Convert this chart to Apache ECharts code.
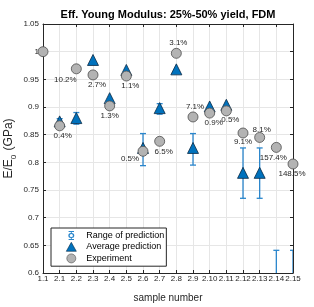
<!DOCTYPE html>
<html><head><meta charset="utf-8">
<script src="https://cdn.jsdelivr.net/npm/echarts@6/dist/echarts.min.js"></script>
<style>html,body{margin:0;padding:0;background:#fff}#c{width:314px;height:307px}</style>
</head><body><div id="c"></div>
<script>
const categories = ['1.1','2.1','2.2','2.3','2.4','2.5','2.6','2.7','2.8','2.9','2.10','2.11','2.12','2.13','2.14','2.15'];
const experiment = [1.0, 0.866, 0.969, 0.958, 0.902, 0.956, 0.820, 0.838, 0.997, 0.882, 0.889, 0.893, 0.853, 0.845, 0.827, 0.797];
const expLabels = ['', '0.4%', '10.2%', '2.7%', '1.3%', '1.1%', '0.5%', '6.5%', '3.1%', '7.1%', '0.9%', '0.5%', '9.1%', '8.1%', '157.4%', '148.5%'];
const avgPrediction = [null, 0.874, 0.880, 0.985, 0.916, 0.967, 0.826, 0.898, 0.968, 0.826, 0.901, 0.904, 0.781, 0.781, 0.55, 0.55];
const rangeLow = [null, 0.869, 0.869, null, null, null, 0.794, 0.887, null, 0.795, null, null, 0.735, 0.735, 0.46, 0.46];
const rangeHigh = [null, 0.879, 0.890, null, null, null, 0.852, 0.906, null, 0.852, null, null, 0.826, 0.826, 0.641, 0.641];
const yTicks = {min: 0.6, max: 1.05, step: 0.05};

// label placement (layout, not data): [dx, dy]
const labelOffsets = [[0,0],[3,10],[-11,11],[4,10],[0,10],[4,10],[-13,8],[4,10],[2,-11],[2,-10],[4,10],[4,9],[0,9],[2,-8],[-3,10],[-1,10]];

const errData = [];
for (let i = 0; i < categories.length; i++) {
  if (rangeLow[i] != null) errData.push([i, rangeLow[i], rangeHigh[i]]);
}
const expData = experiment.map((v, i) => ({
  value: [i, v],
  label: {show: expLabels[i] !== '', formatter: expLabels[i], position: 'inside', offset: labelOffsets[i]}
}));
const avgData = avgPrediction.map((v, i) => v == null ? null : [i, v]);

const blue = '#0072BD';
const errBlue = '#2a86cc';
const gridColor = '#e6e6e6';
const axisColor = '#262626';
const font = 'Liberation Sans, Arial, Helvetica, sans-serif';

const chart = echarts.init(document.getElementById('c'), null, {renderer: 'canvas'});
chart.setOption({
  animation: false,
  backgroundColor: '#fff',
  textStyle: {fontFamily: font},
  grid: {left: 43, right: 21, top: 24, bottom: 34, containLabel: false, outerBoundsMode: 'none'},
  graphic: [{
    type: 'text', x: 168, y: 15,
    style: {text: 'Eff. Young Modulus: 25%-50% yield, FDM', font: 'bold 11px ' + font, fill: '#000', textAlign: 'center', textVerticalAlign: 'middle'}
  }],
  legend: {
    orient: 'vertical', left: 51, top: 228,
    backgroundColor: '#fff', borderColor: '#262626', borderWidth: 1, borderRadius: 0,
    padding: [3, 2, 3, 15], itemGap: 2, itemWidth: 10, itemHeight: 9, symbolKeepAspect: true,
    textStyle: {fontSize: 9, color: '#000', fontFamily: font, padding: [0, 0, 0, 5]},
    data: [
      {name: 'Range of prediction', icon: 'path://M2,0H8V1H5.5V2.2A2.8,2.8 0 0 1 5.5,7.8V9H8V10H2V9H4.5V7.8A2.8,2.8 0 0 1 4.5,2.2V1H2Z M5,3.2A1.8,1.8 0 0 0 5,6.8A1.8,1.8 0 0 0 5,3.2Z'},
      {name: 'Average prediction', icon: 'triangle', itemStyle: {borderWidth: 0.6, borderColor: '#0a2a45'}},
      {name: 'Experiment', icon: 'circle', itemStyle: {borderWidth: 0.6, borderColor: '#4d4d4d'}}
    ]
  },
  xAxis: [{
    type: 'category', data: categories, boundaryGap: false,
    axisLine: {show: true, lineStyle: {color: axisColor, width: 1}},
    axisTick: {show: true, inside: true, length: 3, alignWithLabel: true, lineStyle: {color: axisColor}},
    axisLabel: {interval: 0, fontSize: 8, color: axisColor, margin: 2, hideOverlap: false},
    splitLine: {show: true, interval: 0, lineStyle: {color: gridColor, width: 1}},
    name: 'sample number', nameLocation: 'middle', nameGap: 20,
    nameTextStyle: {fontSize: 10, color: axisColor}
  }, {
    type: 'category', data: categories, boundaryGap: false, position: 'top',
    axisLine: {show: true, lineStyle: {color: axisColor, width: 1}},
    axisTick: {show: true, inside: true, length: 3, alignWithLabel: true, lineStyle: {color: axisColor}},
    axisLabel: {show: false}, splitLine: {show: false}
  }],
  yAxis: [{
    type: 'value', min: yTicks.min, max: yTicks.max, interval: yTicks.step,
    axisLine: {show: true, lineStyle: {color: axisColor, width: 1}},
    axisTick: {show: true, inside: true, length: 3, lineStyle: {color: axisColor}},
    axisLabel: {fontSize: 8, color: axisColor, margin: 4, formatter: v => String(parseFloat(v.toFixed(2)))},
    splitLine: {show: true, lineStyle: {color: gridColor, width: 1}},
    name: 'E/E{sub|0} (GPa)', nameLocation: 'middle', nameGap: 28, nameMoveOverlap: false,
    nameTextStyle: {fontSize: 12, color: axisColor, rich: {sub: {fontSize: 8, verticalAlign: 'bottom', padding: [0, 1, -3, 0]}}}
  }, {
    type: 'value', min: yTicks.min, max: yTicks.max, interval: yTicks.step, position: 'right',
    axisLine: {show: true, lineStyle: {color: axisColor, width: 1}},
    axisTick: {show: true, inside: true, length: 3, lineStyle: {color: axisColor}},
    axisLabel: {show: false}, splitLine: {show: false}
  }],
  series: [{
    name: 'Range of prediction', type: 'custom', clip: true, z: 2,
    color: errBlue,
    encode: {x: 0, y: [1, 2]},
    data: errData,
    renderItem: function (params, api) {
      const x = api.value(0);
      const lo = api.coord([x, api.value(1)]);
      const hi = api.coord([x, api.value(2)]);
      const w = 3;
      const style = {stroke: errBlue, lineWidth: 1.3, fill: 'none'};
      return {type: 'group', children: [
        {type: 'line', shape: {x1: lo[0], y1: lo[1], x2: hi[0], y2: hi[1]}, style},
        {type: 'line', shape: {x1: lo[0] - w, y1: lo[1], x2: lo[0] + w, y2: lo[1]}, style},
        {type: 'line', shape: {x1: hi[0] - w, y1: hi[1], x2: hi[0] + w, y2: hi[1]}, style}
      ]};
    }
  }, {
    name: 'Average prediction', type: 'scatter', symbol: 'triangle', symbolSize: 11, clip: true, z: 3,
    itemStyle: {color: blue, borderColor: '#0a2a45', borderWidth: 0.8, opacity: 1},
    data: avgData
  }, {
    name: 'Experiment', type: 'scatter', symbol: 'circle', symbolSize: 10, clip: true, z: 4,
    itemStyle: {color: '#b3b3b3', borderColor: '#4d4d4d', borderWidth: 0.8, opacity: 1},
    label: {show: true, fontSize: 8, color: '#262626', fontFamily: font},
    data: expData
  }]
});
</script></body></html>
